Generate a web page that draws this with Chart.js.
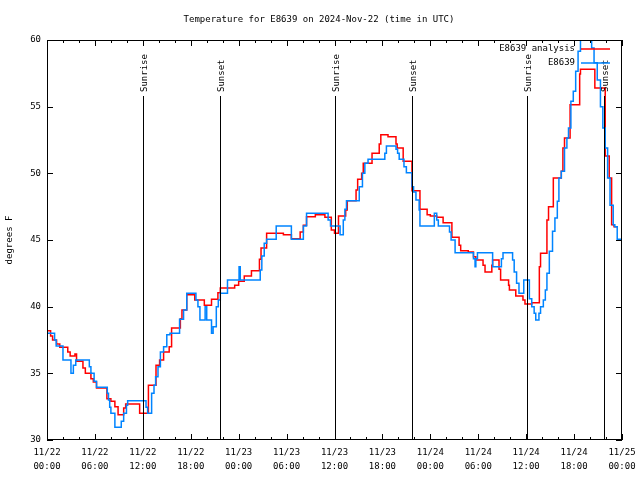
<!DOCTYPE html>
<html>
<head>
<meta charset="utf-8">
<script src="https://cdn.jsdelivr.net/npm/chart.js@4.4.1/dist/chart.umd.min.js"></script>
<style>
html, body { margin: 0; padding: 0; background: #fff; }
</style>
</head>
<body>
<canvas id="tempChart" width="640" height="480"></canvas>
<script>
'use strict';

// hours since 2024-11-22 00:00 UTC
const analysisHours = [0, 0.45, 0.7, 1.2, 1.6, 2.6, 2.9, 3.5, 3.7, 4.5, 4.8, 5.5, 5.8, 6.2, 7.5, 8.0, 8.5, 8.9, 9.6, 9.85,
    11.6, 12.7, 13.65, 14.1, 14.6, 15.3, 15.6, 16.7, 16.9, 17.5, 18.5, 19.7, 20.6, 21.4, 21.7, 23.5, 24.0, 24.7, 25.6, 26.6,
    26.8, 27.5, 29.6, 30.6, 31.7, 32.1, 32.5, 33.6, 34.8, 35.6, 36.0, 36.5, 37.4, 37.6, 38.7, 38.9, 39.4, 39.6, 40.7, 41.6,
    41.8, 42.7, 43.7, 43.85, 44.6, 45.7, 46.7, 47.6, 48.0, 48.8, 49.6, 50.7, 51.6, 51.8, 52.75, 53.4, 53.7, 54.6, 54.85, 55.7,
    55.8, 56.6, 56.8, 57.8, 57.9, 58.7, 59.6, 59.85, 60.7, 61.65, 61.8, 62.6, 62.8, 63.4, 64.4, 64.6, 64.8, 65.5, 66.7, 66.8,
    68.6, 69.9, 70.4, 70.7, 71.0, 71.5];
const analysisTemps = [38.2, 37.8, 37.5, 37.2, 36.95, 36.6, 36.3, 36.45, 35.9, 35.4, 35.0, 34.6, 34.35, 33.9, 33.1, 32.9, 32.5, 31.9, 32.4, 32.7,
    32.0, 34.1, 35.6, 36.0, 36.6, 37.0, 38.4, 39.1, 39.75, 40.9, 40.5, 40.1, 40.55, 41.05, 41.4, 41.6, 41.9, 42.3, 42.7, 43.55,
    44.4, 45.5, 45.4, 45.1, 45.6, 46.1, 46.75, 46.9, 46.7, 45.75, 45.5, 46.8, 47.25, 47.95, 48.75, 49.55, 50.0, 50.75, 51.5, 52.2,
    52.9, 52.75, 52.2, 51.9, 50.9, 48.7, 47.3, 46.9, 46.8, 46.7, 46.3, 45.2, 44.6, 44.2, 44.1, 43.75, 43.5, 43.1, 42.6, 43.1,
    43.5, 42.8, 42.0, 41.6, 41.25, 40.8, 40.5, 40.2, 40.3, 43.0, 44.0, 46.5, 47.5, 49.65, 50.15, 51.9, 52.65, 55.15, 57.45, 57.8,
    56.4, 51.3, 49.65, 46.15, 46.0, 46.0];

const stationHours = [0, 0.95, 1.15, 2.0, 3.0, 3.3, 3.6, 5.3, 5.5, 5.9, 6.2, 7.55, 7.7, 7.85, 8.0, 8.5, 9.3, 9.6, 9.95, 10.1,
    12.4, 12.6, 13.1, 13.4, 13.6, 13.9, 14.2, 14.6, 15.0, 15.4, 16.6, 17.1, 17.5, 18.65, 18.9, 19.15, 19.8, 20.0, 20.6, 20.8,
    21.2, 21.45, 21.7, 22.6, 24.05, 24.2, 26.7, 26.9, 27.2, 27.5, 28.7, 30.6, 32.1, 32.5, 35.2, 35.5, 36.7, 37.1, 37.3, 37.5,
    39.1, 39.5, 39.8, 40.2, 42.3, 42.5, 43.7, 43.9, 44.1, 44.7, 45.0, 45.7, 45.9, 46.2, 46.6, 46.7, 48.5, 48.8, 49.0, 50.4,
    50.6, 51.1, 53.4, 53.6, 53.7, 53.9, 55.8, 56.9, 57.1, 58.3, 58.5, 58.8, 59.1, 59.7, 60.4, 60.7, 61.0, 61.2, 61.6, 61.8,
    62.15, 62.4, 62.6, 62.9, 63.3, 63.6, 63.9, 64.1, 64.4, 64.8, 65.1, 65.3, 65.6, 65.9, 66.2, 66.5, 66.8, 68.2, 68.5, 68.9,
    69.3, 69.6, 69.9, 70.2, 70.5, 70.9, 71.1, 71.4, 72];
const stationTemps = [38.0, 37.5, 37.05, 36.0, 35.0, 35.6, 36.0, 35.5, 35.0, 34.4, 33.95, 33.5, 33.0, 32.45, 32.0, 30.95, 31.4, 32.0, 32.6, 32.95,
    32.45, 32.0, 33.5, 34.1, 34.75, 35.5, 36.6, 37.0, 37.9, 38.0, 39.05, 39.75, 41.0, 40.5, 40.0, 39.0, 40.0, 39.0, 38.0, 38.5,
    40.0, 40.5, 41.0, 42.0, 43.0, 42.0, 42.75, 43.8, 44.75, 45.05, 46.05, 45.05, 46.05, 47.0, 46.5, 46.05, 45.4, 46.5, 47.3, 47.95,
    49.0, 50.0, 50.75, 51.05, 51.5, 52.05, 51.8, 51.5, 51.05, 50.5, 50.05, 49.0, 48.6, 48.0, 47.25, 46.05, 47.0, 46.5, 46.05, 45.6,
    45.0, 44.05, 43.6, 43.0, 43.6, 44.05, 43.0, 43.6, 44.05, 43.5, 42.6, 41.75, 41.0, 42.0, 40.6, 40.0, 39.5, 39.0, 39.5, 40.0,
    40.5, 41.25, 42.5, 44.15, 45.65, 46.65, 47.9, 49.65, 50.15, 51.9, 52.65, 53.4, 55.4, 56.15, 57.65, 59.15, 61.0, 59.4, 58.3, 57.0,
    55.0, 53.4, 51.9, 49.65, 47.6, 46.15, 46.0, 45.05, 45.05];

const sunHours = [12.03, 21.66, 36.06, 45.7, 60.1, 69.74];
const sunLabels = ['Sunrise', 'Sunset', 'Sunrise', 'Sunset', 'Sunrise', 'Sunset'];

const tickDates = ['11/22', '11/22', '11/22', '11/22', '11/23', '11/23', '11/23', '11/23', '11/24', '11/24', '11/24', '11/24', '11/25'];
const tickTimes = ['00:00', '06:00', '12:00', '18:00', '00:00', '06:00', '12:00', '18:00', '00:00', '06:00', '12:00', '18:00', '00:00'];

const seriesNames = ['E8639 analysis', 'E8639'];
const seriesColors = ['#ff0000', '#0084ff'];

const FONT = '"DejaVu Sans Mono", "Liberation Mono", monospace';

const toPoints = (hours, temps) => hours.map((h, i) => ({ x: h, y: temps[i] }));

// рамка, засечки, восход/закат, легенда и подписи в стиле gnuplot
const gnuplotDecor = {
    id: 'gnuplotDecor',
    afterDatasetsDraw(chart) {
        const { ctx, chartArea: a, scales: { x, y } } = chart;
        ctx.save();
        ctx.strokeStyle = '#000';
        ctx.fillStyle = '#000';
        ctx.lineWidth = 1;
        ctx.font = '9px ' + FONT;

        // sunrise / sunset lines
        sunHours.forEach((h, i) => {
            const px = Math.round(x.getPixelForValue(h)) + 0.5;
            ctx.beginPath();
            ctx.moveTo(px, a.bottom);
            ctx.lineTo(px, a.top + 56);
            ctx.stroke();
            ctx.save();
            ctx.translate(px + 3, a.top + 52);
            ctx.rotate(-Math.PI / 2);
            ctx.textAlign = 'left';
            ctx.textBaseline = 'alphabetic';
            ctx.fillText(sunLabels[i], 0, 0);
            ctx.restore();
        });

        // border
        ctx.strokeRect(a.left + 0.5, a.top + 0.5, a.right - a.left - 1, a.bottom - a.top - 1);

        // x ticks (major 6h, minor 2h), mirrored on top
        ctx.beginPath();
        for (let h = 0; h <= 72; h += 2) {
            const px = Math.round(x.getPixelForValue(h)) + 0.5;
            const len = h % 6 === 0 ? 6 : 3;
            ctx.moveTo(px, a.bottom);
            ctx.lineTo(px, a.bottom - len);
            ctx.moveTo(px, a.top);
            ctx.lineTo(px, a.top + len);
        }
        // y ticks, mirrored on right
        for (let t = 30; t <= 60; t += 5) {
            const py = Math.round(y.getPixelForValue(t)) + 0.5;
            ctx.moveTo(a.left, py);
            ctx.lineTo(a.left + 6, py);
            ctx.moveTo(a.right, py);
            ctx.lineTo(a.right - 6, py);
        }
        ctx.stroke();

        // legend
        ctx.textAlign = 'right';
        ctx.textBaseline = 'middle';
        seriesNames.forEach((name, i) => {
            const ly = a.top + 9 + i * 14;
            ctx.fillStyle = '#000';
            ctx.fillText(name, a.right - 47, ly);
            ctx.strokeStyle = seriesColors[i];
            ctx.lineWidth = 1.5;
            ctx.beginPath();
            ctx.moveTo(a.right - 41, ly);
            ctx.lineTo(a.right - 12, ly);
            ctx.stroke();
        });

        // title and y label
        ctx.fillStyle = '#000';
        ctx.textAlign = 'center';
        ctx.fillText('Temperature for E8639 on 2024-Nov-22 (time in UTC)', 319, 20);
        ctx.save();
        ctx.translate(10, (a.top + a.bottom) / 2);
        ctx.rotate(-Math.PI / 2);
        ctx.fillText('degrees F', 0, 0);
        ctx.restore();

        ctx.restore();
    }
};

const tempChart = new Chart(document.getElementById('tempChart'), {
    type: 'line',
    data: {
        datasets: [{
            label: seriesNames[0],
            data: toPoints(analysisHours, analysisTemps),
            borderColor: seriesColors[0],
            borderWidth: 1.5,
            stepped: true,
            pointRadius: 0,
            order: 1
        }, {
            label: seriesNames[1],
            data: toPoints(stationHours, stationTemps),
            borderColor: seriesColors[1],
            borderWidth: 1.5,
            stepped: true,
            pointRadius: 0,
            order: 0
        }]
    },
    options: {
        responsive: false,
        animation: false,
        layout: {
            padding: { top: 40, right: 18, left: 0, bottom: 0 }
        },
        plugins: {
            legend: { display: false },
            title: { display: false },
            tooltip: { enabled: false }
        },
        scales: {
            x: {
                type: 'linear',
                min: 0,
                max: 72,
                grid: { display: false, drawTicks: false },
                border: { display: false },
                ticks: {
                    stepSize: 6,
                    autoSkip: false,
                    maxRotation: 0,
                    padding: 6,
                    color: '#000',
                    font: { family: FONT, size: 9, lineHeight: 1.55 },
                    callback: (v) => {
                        const i = Math.round(v / 6);
                        return [tickDates[i], tickTimes[i]];
                    }
                },
                afterFit: (scale) => {
                    scale.height = 40;
                    scale.paddingLeft = 0;
                    scale.paddingRight = 0;
                }
            },
            y: {
                min: 30,
                max: 60,
                grid: { display: false, drawTicks: false },
                border: { display: false },
                ticks: {
                    stepSize: 5,
                    padding: 6,
                    color: '#000',
                    font: { family: FONT, size: 9 }
                },
                afterFit: (scale) => {
                    scale.width = 47;
                    scale.paddingTop = 0;
                    scale.paddingBottom = 0;
                }
            }
        }
    },
    plugins: [gnuplotDecor]
});
</script>
</body>
</html>
